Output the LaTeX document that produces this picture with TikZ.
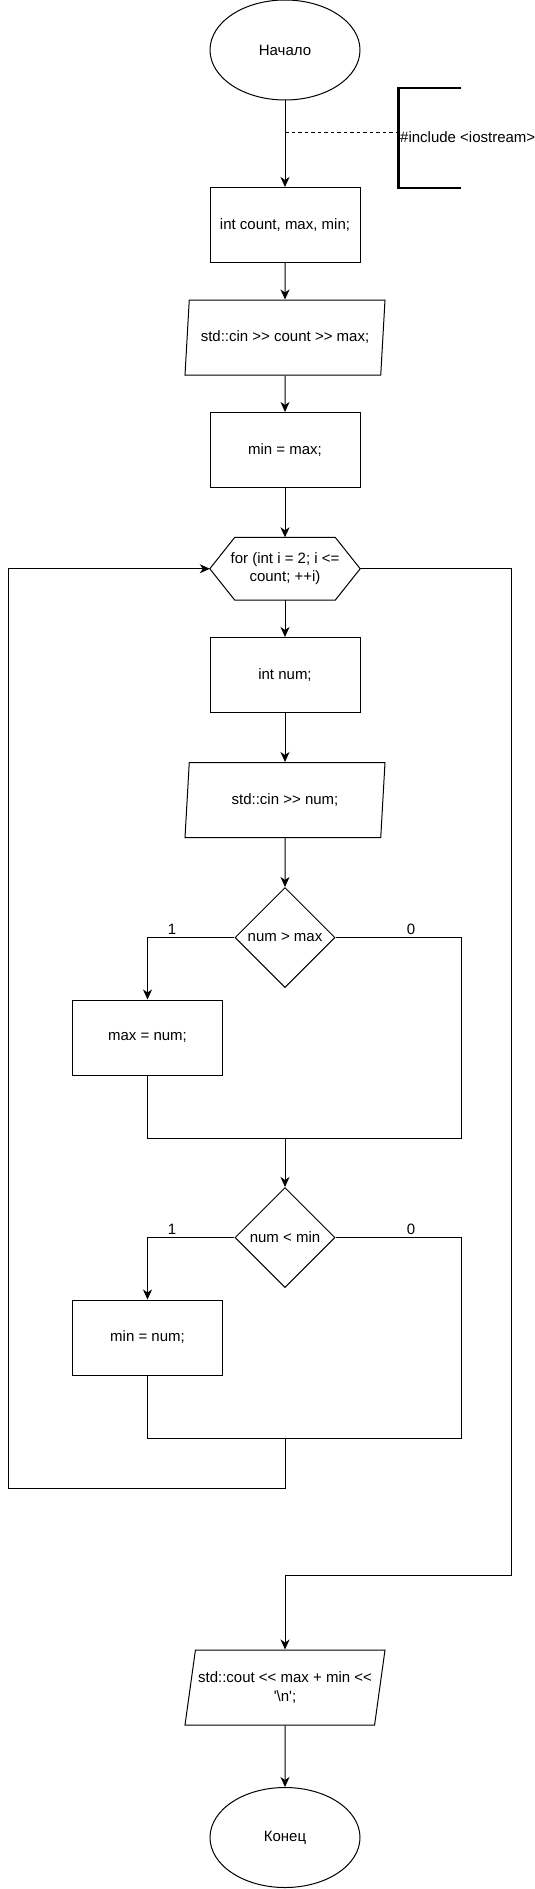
\documentclass[tikz,border=0pt]{standalone}
\usepackage{fontspec}
\setmainfont{Liberation Sans}[Ligatures=TeXOff]
\usetikzlibrary{shapes.geometric,arrows.meta}
\tikzset{
  every node/.style={font=\fontsize{15}{18.5}\selectfont, align=center},
  flow/.style={draw, line width=1pt, inner sep=0pt},
  box/.style={flow, rectangle, minimum width=150pt, minimum height=75pt},
  term/.style={flow, ellipse, minimum width=150pt, minimum height=100pt},
  io/.style={flow, trapezium, trapezium left angle=71.565, trapezium right angle=108.435, trapezium stretches body, minimum width=200pt, minimum height=75pt},
  cond/.style={flow, diamond, minimum width=100pt, minimum height=100pt},
  loopbox/.style={rectangle, minimum width=150pt, minimum height=62.5pt, inner sep=0pt},
  wire/.style={line width=1pt},
  arr/.style={wire, -{Stealth[length=10pt, width=9pt, inset=3pt]}},
  lbl/.style={inner sep=0pt}
}
\begin{document}
\begin{tikzpicture}[x=1pt, y=-1pt]
\useasboundingbox (0,0) rectangle (535,1889);
% main column
\node[term] (start) at (285,50) {Начало};
\node[box] (decl) at (285,225) {int count, max, min;};
\node[io] (in1) at (285,337.5) {std::cin >> count >> max;};
\node[box] (init) at (285,450) {min = max;};
\node[loopbox] (loop) at (285,568.75) {for (int i = 2; i <=\\ count; ++i)};
\draw[wire] (loop.west) -- ([xshift=25pt]loop.north west) -- ([xshift=-25pt]loop.north east) -- (loop.east) -- ([xshift=-25pt]loop.south east) -- ([xshift=25pt]loop.south west) -- cycle;
\node[box] (num) at (285,675) {int num;};
\node[io] (in2) at (285,800) {std::cin >> num;};
\node[cond] (c1) at (285,937.5) {num > max};
\node[box] (setmax) at (147.5,1037.5) {max = num;};
\node[cond] (c2) at (285,1237.5) {num < min};
\node[box] (setmin) at (147.5,1337.5) {min = num;};
\node[io] (out) at (285,1687.5) {std::cout << max + min <<\\ '\textbackslash n';};
\node[term] (stop) at (285,1837.5) {Конец};
% comment
\coordinate (tap) at (285,133);
\node[lbl, anchor=west] (note) at (400,137) {\#include <iostream>};
\draw[wire, line width=2.5pt] (461,88) -- (398.5,88) -- (398.5,188) -- (461,188);
\draw[wire, dash pattern=on 3.5pt off 3pt] (tap) -- (tap -| note.west);
% corners
\coordinate (j1) at (285,1138);
\coordinate (r1) at (461,1138);
\coordinate (j2) at (285,1438);
\coordinate (r2) at (461,1438);
\coordinate (back) at (8.75,1488);
\coordinate (exit) at (511,1575);
% straight arrows
\foreach \a/\b in {start/decl, decl/in1, in1/init, init/loop, loop/num, num/in2, in2/c1, out/stop}
  \draw[arr] (\a) -- (\b);
% first branch
\draw[arr] (c1) -| (setmax);
\node[lbl] (yes1) at (172,929) {1};
\node[lbl] (no1) at (411,929) {0};
\draw[wire] (c1) -| (r1) -- (j1);
\draw[wire] (setmax) |- (j1);
\draw[arr] (j1) -- (c2);
% second branch
\draw[arr] (c2) -| (setmin);
\node[lbl] (yes2) at (172,1229) {1};
\node[lbl] (no2) at (411,1229) {0};
\draw[wire] (c2) -| (r2) -- (j2);
\draw[wire] (setmin) |- (j2);
% loop back and exit
\draw[arr] (j2) |- (back) |- (loop.west);
\draw[arr] (loop.east) -| (exit) -| (out);
\end{tikzpicture}
\end{document}
